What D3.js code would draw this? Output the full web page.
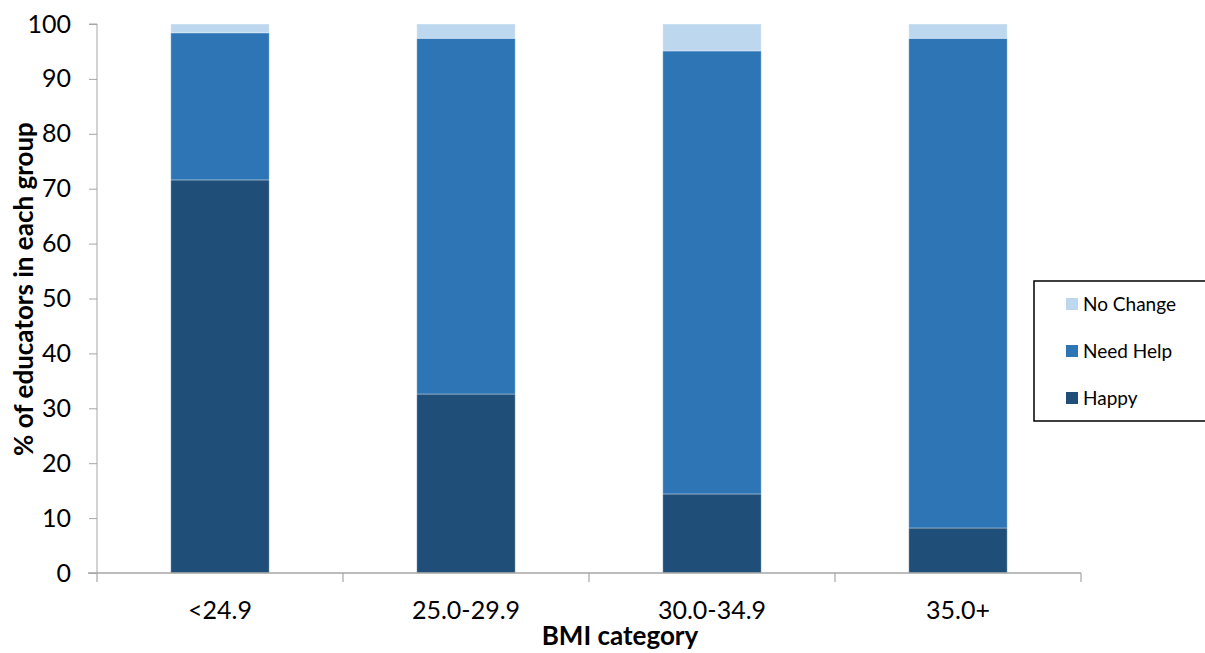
<!DOCTYPE html>
<html>
<head>
<meta charset="utf-8">
<script src="https://cdn.jsdelivr.net/npm/d3@7/dist/d3.min.js"></script>
<style>
  html, body { margin: 0; padding: 0; background: #fff; }
  svg { display: block; font-family: Lato, "Open Sans", sans-serif; }
</style>
</head>
<body>
<svg id="chart" width="1205" height="653"></svg>
<script>
// BMI categories and the share of educators (%) in each response group
const categories = ["<24.9", "25.0-29.9", "30.0-34.9", "35.0+"];
const happy      = [71.6, 32.6, 14.4, 8.2];
const needHelp   = [26.8, 64.8, 80.7, 89.2];
const noChange   = [1.6, 2.6, 4.9, 2.6];
const seriesNames = ["Happy", "Need Help", "No Change"];
const yTicks = [0, 10, 20, 30, 40, 50, 60, 70, 80, 90, 100];

const colors = { "Happy": "#1F4E79", "Need Help": "#2E75B6", "No Change": "#BDD7EE" };

const svg = d3.select("#chart");
const margin = { left: 97 };

const x = d3.scaleBand().domain(categories).range([margin.left, 1081]).paddingInner(0).paddingOuter(0);
const y = d3.scaleLinear().domain([0, 100]).range([573, 24]);

const rows = categories.map((c, i) => ({
  cat: c, "Happy": happy[i], "Need Help": needHelp[i], "No Change": noChange[i]
}));
const stacked = d3.stack().keys(seriesNames)(rows);

const barW = x.bandwidth() * 0.4;

svg.append("g").selectAll("g")
  .data(stacked).join("g")
  .attr("fill", d => colors[d.key])
  .selectAll("rect")
  .data(d => d).join("rect")
  .attr("x", d => x(d.data.cat) + (x.bandwidth() - barW) / 2)
  .attr("width", barW)
  .attr("y", d => y(d[1]))
  .attr("height", d => y(d[0]) - y(d[1]))
  .attr("stroke", "rgba(255,255,255,0.35)")
  .attr("stroke-width", 1);

// y axis
const yAxis = d3.axisLeft(y).tickValues(yTicks).tickSize(8).tickPadding(18);
const gy = svg.append("g").attr("transform", `translate(${margin.left},0)`).call(yAxis);
gy.select(".domain").attr("stroke", "#a6a6a6").attr("d", `M-8,${y(100)}H0V${y(0)}`);
gy.selectAll(".tick line").attr("stroke", "#a6a6a6");
gy.selectAll(".tick text").attr("font-size", 25).attr("fill", "#000")
  .attr("font-family", "Lato, 'Open Sans', sans-serif");

// x axis with ticks at category boundaries
const gx = svg.append("g").attr("transform", `translate(0,${y(0)})`);
gx.append("line").attr("x1", 88).attr("x2", 1081).attr("y1", 0).attr("y2", 0)
  .attr("stroke", "#a6a6a6").attr("stroke-width", 1.5);
const bounds = categories.map(c => x(c)).concat([x(categories[categories.length - 1]) + x.bandwidth()]);
gx.selectAll("line.tk").data(bounds).join("line").attr("class", "tk")
  .attr("x1", d => d).attr("x2", d => d).attr("y1", 0).attr("y2", 9)
  .attr("stroke", "#a6a6a6").attr("stroke-width", 1.2);
gx.selectAll("text").data(categories).join("text")
  .attr("x", d => x(d) + x.bandwidth() / 2)
  .attr("y", 46)
  .attr("text-anchor", "middle")
  .attr("font-size", 25)
  .attr("fill", "#000")
  .text(d => d);

// axis titles
svg.append("text")
  .attr("x", 620).attr("y", 645)
  .attr("text-anchor", "middle")
  .attr("font-size", 26).attr("font-weight", "bold")
  .text("BMI category");

svg.append("text")
  .attr("transform", `translate(33,289) rotate(-90)`)
  .attr("text-anchor", "middle")
  .attr("font-size", 26).attr("font-weight", "bold")
  .text("% of educators in each group");

// legend
const lg = svg.append("g").attr("transform", "translate(1034,281)");
lg.append("rect").attr("width", 172).attr("height", 140)
  .attr("fill", "#fff").attr("stroke", "#000").attr("stroke-width", 1.5);
const legendItems = seriesNames.slice().reverse();
legendItems.forEach((name, i) => {
  const cy = 23 + i * 47;
  lg.append("rect").attr("x", 32).attr("y", cy - 6).attr("width", 12).attr("height", 12)
    .attr("fill", colors[name]);
  lg.append("text").attr("x", 49).attr("y", cy).attr("dy", "0.36em")
    .attr("font-size", 19).attr("fill", "#000").text(name);
});
</script>
</body>
</html>
